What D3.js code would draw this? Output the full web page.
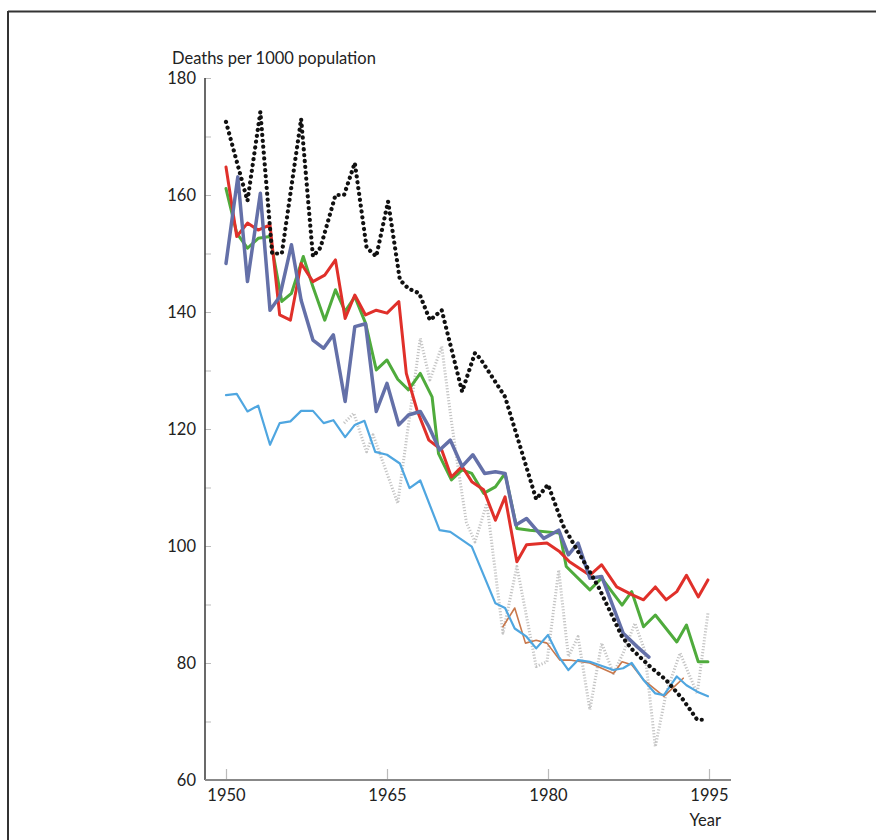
<!DOCTYPE html>
<html><head><meta charset="utf-8">
<script src="https://cdn.jsdelivr.net/npm/d3@7"></script>
<style>
html,body{margin:0;padding:0;background:#fff;}
svg{display:block;}
text{font-family:Lato,"Open Sans",sans-serif;fill:#222;}
</style></head>
<body><svg id="c" width="876" height="840"></svg>
<script>
// ---- data (years, deaths per 1000 population) ----
const yTickValues = [60,70,80,90,100,110,120,130,140,150,160,170,180];
const xTickValues = [1950,1965,1980,1995];

const blackYears  = [1950,1952,1953.2,1954.3,1955.2,1957,1958.1,1958.8,1960.2,1961,1962,1963.1,1964,1965.1,1966.2,1967,1968,1969,1970.1,1972,1973.2,1973.7,1976,1978.9,1980,1981.4,1983.6,1984.7,1986.9,1987.9,1989.5,1991,1992.6,1993.9,1994.8];
const blackValues = [172.5,159,174.2,150,150,173,149.5,151,160,160,165.5,151,149.5,158.9,145.5,144,143.2,138.6,140.3,126.4,133,132,125.5,108,110.5,103.5,96.5,93,84.5,82.2,79.4,77.1,73.7,70.3,70.3];

const redYears  = [1950,1951,1952,1953,1954.1,1955,1956,1957,1958.1,1959.2,1960.2,1961.1,1962,1963,1964,1965,1966.1,1966.8,1967.8,1968.9,1970.1,1971,1972,1972.9,1974,1975.1,1976,1977.1,1978,1979.9,1981.1,1982,1983.9,1985,1986.4,1987.9,1988.9,1990,1991,1992,1992.9,1994,1994.9];
const redValues = [164.8,152.9,155.2,154,154.9,139.5,138.6,148.3,145.2,146.3,148.9,138.9,142.9,139.5,140.3,139.8,141.8,129.5,123.2,118.1,116.4,111.8,113.6,111,109.6,104.4,108.4,97.3,100.2,100.5,99,97.3,95,96.8,93,91.6,90.8,93,90.8,92.2,95,91.3,94.2];

const greenYears  = [1950,1951,1952,1953,1954.1,1955.2,1956.1,1957.2,1958.1,1959.2,1960.2,1961.1,1962,1963,1964,1965,1966,1967,1968.1,1969.2,1969.8,1971,1972,1972.9,1974,1975.1,1976,1977.1,1978.3,1981.1,1981.7,1983.9,1985,1986.9,1987.8,1988.9,1990,1992,1992.9,1994,1994.9];
const greenValues = [161.1,153.5,150.9,152.6,152.9,141.8,143.2,149.5,144.3,138.6,143.8,140.1,142.6,138.1,130.1,131.8,128.5,126.7,129.5,125.5,115.8,111.3,113,112.4,109,110.1,112.4,103,102.7,102.2,96.5,92.5,94.5,89.9,92.2,86.2,88.2,83.6,86.5,80.2,80.2];

const slateYears  = [1950,1951.1,1952,1953.2,1954.1,1955,1956.1,1957,1958.1,1959.1,1960,1961.1,1962,1963,1964,1965,1966.1,1967,1968.1,1968.9,1969.9,1970.9,1972,1973,1974.1,1975.1,1976,1977,1978,1979.6,1981,1981.9,1982.8,1983.9,1985,1987,1988.3,1989.4];
const slateValues = [148.3,163.1,145.2,160.3,140.3,142.6,151.5,142,135.2,133.8,136.1,124.7,137.5,138,123,127.8,120.7,122.4,123,120.4,116.4,118.1,113.6,115.6,112.4,112.7,112.4,103.6,104.7,101.3,102.7,98.5,100.5,94.5,94.8,85.1,82.8,81];

const lightYears  = [1950,1951,1952,1953,1954.1,1955,1956,1957,1958.1,1959.1,1960,1961.1,1962,1962.9,1963.9,1965,1966.2,1967.1,1968.1,1969.9,1970.9,1972.9,1975.1,1976,1976.9,1978,1978.9,1980,1981,1981.9,1982.8,1983.9,1986.1,1987,1987.8,1988.9,1990,1990.8,1992,1992.9,1993.9,1994.9];
const lightValues = [125.8,126,123,124,117.3,121,121.3,123.1,123.1,121,121.5,118.6,120.7,121.4,116.1,115.6,114.1,109.9,111.2,102.7,102.4,99.9,90.2,89.4,85.9,84.5,82.5,84.8,81.1,78.8,80.5,80.2,78.8,79.1,80,77.1,74.8,74.5,77.7,76.2,75.1,74.3];

const brownYears  = [1975.8,1976.9,1977.9,1978.9,1979.9,1981.1,1982,1983.9,1986.1,1986.9,1987.8,1988.9,1990.8,1992.6];
const brownValues = [86.2,89.4,83.4,83.9,83.4,80.5,80.5,80,78.2,80.2,79.7,77.1,74.3,77.4];

const greyYears  = [1961,1961.9,1963.1,1963.7,1966,1968.1,1969,1970.1,1970.9,1971.6,1972.4,1973.2,1974.3,1975.8,1977.1,1978.9,1979.9,1981,1981.9,1982.8,1983.9,1985,1986.1,1987,1988.1,1989,1990,1991,1992.3,1993.9,1994.9];
const greyValues = [121,122.7,116.1,119,107.3,135.5,128.4,134.1,122.7,113.6,104,100.7,107.3,85.1,96.5,79.4,80.2,95.9,81.1,84.5,72,83.4,78.2,81.7,86.8,82.2,65.7,74.8,81.7,74.8,88.5];

// ---- drawing ----
const svg = d3.select("#c");
const x = d3.scaleLinear().domain([1950,1995]).range([226,709]);
const y = d3.scaleLinear().domain([60,180]).range([780,78]);

// frame
svg.append("line").attr("x1",8).attr("x2",876).attr("y1",11.5).attr("y2",11.5).attr("stroke","#333").attr("stroke-width",2);
svg.append("line").attr("x1",8).attr("x2",8).attr("y1",11).attr("y2",840).attr("stroke","#333").attr("stroke-width",2);

// y axis
const yAxis = d3.axisLeft(y).tickValues(yTickValues).tickSize(-6).tickPadding(9)
  .tickFormat(d => d % 20 === 0 ? d : "");
const gy = svg.append("g").attr("transform","translate(205,0)").call(yAxis);
gy.select(".domain").remove();
gy.selectAll(".tick line").attr("stroke","#bbb").attr("stroke-width",1);
gy.selectAll(".tick text").style("font-size","16.5px").attr("fill","#222").style("font-family","Lato,'Open Sans',sans-serif");
svg.append("line").attr("x1",205).attr("x2",205).attr("y1",y(180)).attr("y2",y(60)).attr("stroke","#444").attr("stroke-width",1.6);

// x axis
const xAxis = d3.axisBottom(x).tickValues(xTickValues).tickSize(-11).tickPadding(9).tickFormat(d3.format("d"));
const gx = svg.append("g").attr("transform","translate(0,780)").call(xAxis);
gx.select(".domain").remove();
gx.selectAll(".tick line").attr("stroke","#bbb").attr("stroke-width",1.2);
gx.selectAll(".tick text").style("font-size","16.5px").attr("fill","#222").style("font-family","Lato,'Open Sans',sans-serif");
svg.append("line").attr("x1",205).attr("x2",731).attr("y1",780).attr("y2",780).attr("stroke","#888").attr("stroke-width",2);

// labels
svg.append("text").attr("x",172).attr("y",64).style("font-size","16.5px").text("Deaths per 1000 population");
svg.append("text").attr("x",721).attr("y",826).attr("text-anchor","end").style("font-size","16.5px").text("Year");

const line = d3.line().x(d => x(d[0])).y(d => y(d[1]));
const series = [
  {yr: greyYears,  v: greyValues,  color:"#c4c4c4", w:3,   dash:"1.2,1.8", cap:"butt"},
  {yr: brownYears, v: brownValues, color:"#c8784c", w:1.6},
  {yr: lightYears, v: lightValues, color:"#4fa6e0", w:2.2},
  {yr: greenYears, v: greenValues, color:"#4fab3c", w:3},
  {yr: redYears,   v: redValues,   color:"#e0302a", w:3},
  {yr: slateYears, v: slateValues, color:"#6470a8", w:3.5},
  {yr: blackYears, v: blackValues, color:"#111",    w:4.2, dash:"0.1,5.8", cap:"round"}
];
series.forEach(s => {
  svg.append("path").datum(d3.zip(s.yr, s.v))
    .attr("d", line).attr("fill","none")
    .attr("stroke", s.color).attr("stroke-width", s.w)
    .attr("stroke-linejoin","round")
    .attr("stroke-linecap", s.cap || "round")
    .attr("stroke-dasharray", s.dash || null);
});
</script></body></html>
